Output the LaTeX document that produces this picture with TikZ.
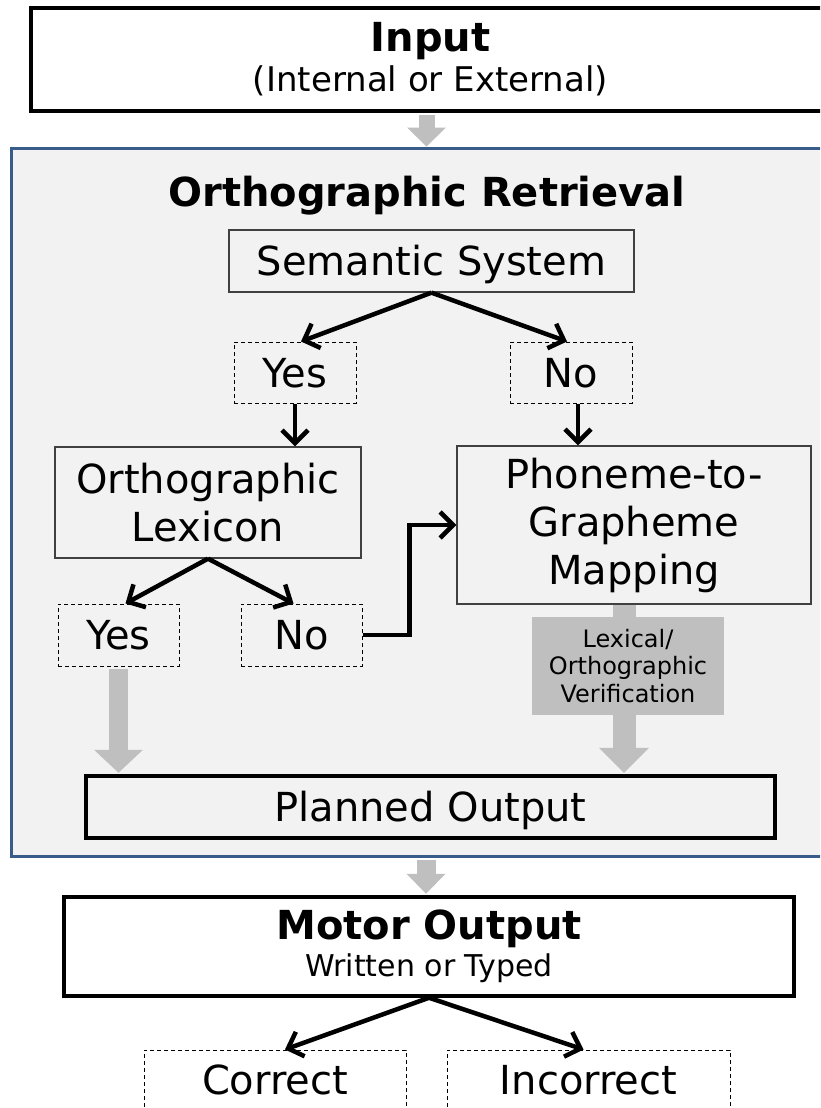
\documentclass[tikz,border=0pt]{standalone}
\usepackage{fontspec}
\setmainfont{DejaVu Sans}
\usepackage{tikz}
\usetikzlibrary{positioning}
\usetikzlibrary{arrows.meta}
\definecolor{panel}{HTML}{F2F2F2}
\definecolor{panelline}{HTML}{385D8A}
\definecolor{flowgray}{HTML}{BFBFBF}
\tikzstyle{box} = [draw=black!75,line width=1.3pt,align=center,inner sep=0pt]
\tikzstyle{thickbox} = [draw=black,line width=3.5pt,align=center,inner sep=0pt]
\tikzstyle{choice} = [draw=black,line width=1pt,dash pattern=on 4pt off 3pt,align=center,inner sep=0pt]
\tikzstyle{oneline} = [text height=29pt,text depth=0pt]
\tikzstyle{arrow} = [line width=4.5pt,-{Straight Barb[length=13pt,width=26pt]}]
\tikzstyle{flow} = [draw=flowgray]

\begin{document}
\begin{tikzpicture}[x=1pt,y=-1pt,font=\fontsize{40}{48}\selectfont]
				\useasboundingbox (0,0) rectangle (820,1108);
				\clip (0,0) rectangle (820,1108);

				%Frame
				\node [draw=panelline,line width=3pt,fill=panel,minimum width=839pt,minimum height=708pt,inner sep=0pt] (retrieval) at (430.5,502) {};
				\node [font=\fontsize{40}{48}\selectfont\bfseries,anchor=base] (title) at (427,206) {Orthographic Retrieval};

				%Nodes
				\node [thickbox,minimum width=799pt,minimum height=103pt,font=\fontsize{40}{40}\selectfont] (input) at (430.5,59.5) {\textbf{Input}\\{\fontsize{34}{40}\selectfont (Internal or External)}};
				\node [box,oneline,minimum width=405pt,minimum height=62pt] (sem) at (431.5,261) {Semantic System};
				\node [choice,oneline,minimum width=122pt,minimum height=61pt] (yes) at (295,372.5) {Yes};
				\node [choice,oneline,minimum width=122pt,minimum height=61pt] (no) at (571,372.5) {No};
				\node [box,minimum width=306pt,minimum height=111pt] (lex) at (208,502.5) {Orthographic\\Lexicon};
				\node [box,minimum width=354pt,minimum height=158pt] (phon) at (634,525) {Phoneme-to-\\Grapheme\\Mapping};
				\node [choice,oneline,minimum width=121pt,minimum height=62pt] (yes2) at (118.5,635) {Yes};
				\node [choice,oneline,minimum width=121pt,minimum height=62pt] (no2) at (301.5,635) {No};
				\node [thickbox,oneline,minimum width=689pt,minimum height=62pt] (planned) at (430.5,807) {Planned Output};
				\node [thickbox,minimum width=730pt,minimum height=99pt,font=\fontsize{40}{37}\selectfont] (motor) at (429,946.5) {\textbf{Motor Output}\\{\fontsize{30}{37}\selectfont Written or Typed}};
				\node [choice,oneline,minimum width=262pt,minimum height=60pt] (correct) at (275,1080) {Correct};
				\node [choice,oneline,minimum width=283pt,minimum height=60pt] (incorrect) at (588.5,1080) {Incorrect};

				%Gray arrows
				\draw [flow,line width=16pt,shorten <=2pt,-{Triangle[width=39pt,length=19pt,line width=0pt]}] ([xshift=-4pt]input.south) -- ([xshift=-4pt]input.south |- retrieval.north);
				\draw [flow,line width=19pt,shorten <=2pt,shorten >=1.5pt,-{Triangle[width=49pt,length=23pt,line width=0pt]}] (yes2.south) -- (yes2.south |- planned.north);
				\draw [flow,line width=23pt,shorten >=1.5pt,-{Triangle[width=50pt,length=25pt,line width=0pt]}] ([xshift=-10pt]phon.south) -- ([xshift=-10pt]phon.south |- planned.north);
				\draw [flow,line width=19pt,shorten <=2pt,shorten >=1.5pt,-{Triangle[width=39pt,length=20pt,line width=0pt]}] ([xshift=-3pt]motor.north |- retrieval.south) -- ([xshift=-3pt]motor.north);
				\node [fill=flowgray,minimum width=192pt,minimum height=98pt,inner sep=0pt,align=center,font=\fontsize{24}{27.5}\selectfont] (verify) at (628,666) {Lexical/\\Orthographic\\Verification};

				%Lines
				\draw [arrow] (sem.south) -- ([xshift=6pt]yes.north);
				\draw [arrow] (sem.south) -- ([xshift=-4pt]no.north);
				\draw [arrow] (yes.south) -- (yes.south |- lex.north);
				\draw [arrow] ([xshift=7pt]no.south) -- ([xshift=7pt]no.south |- phon.north);
				\draw [arrow] (lex.south) -- ([xshift=7pt]yes2.north);
				\draw [arrow] (lex.south) -- ([xshift=-8pt]no2.north);
				\draw [arrow] (no2.east) -- ++(47,0) |- (phon.west);
				\draw [arrow] (motor.south) -- ([xshift=10pt]correct.north);
				\draw [arrow] (motor.south) -- ([xshift=-5pt]incorrect.north);

			\end{tikzpicture}
\end{document}
